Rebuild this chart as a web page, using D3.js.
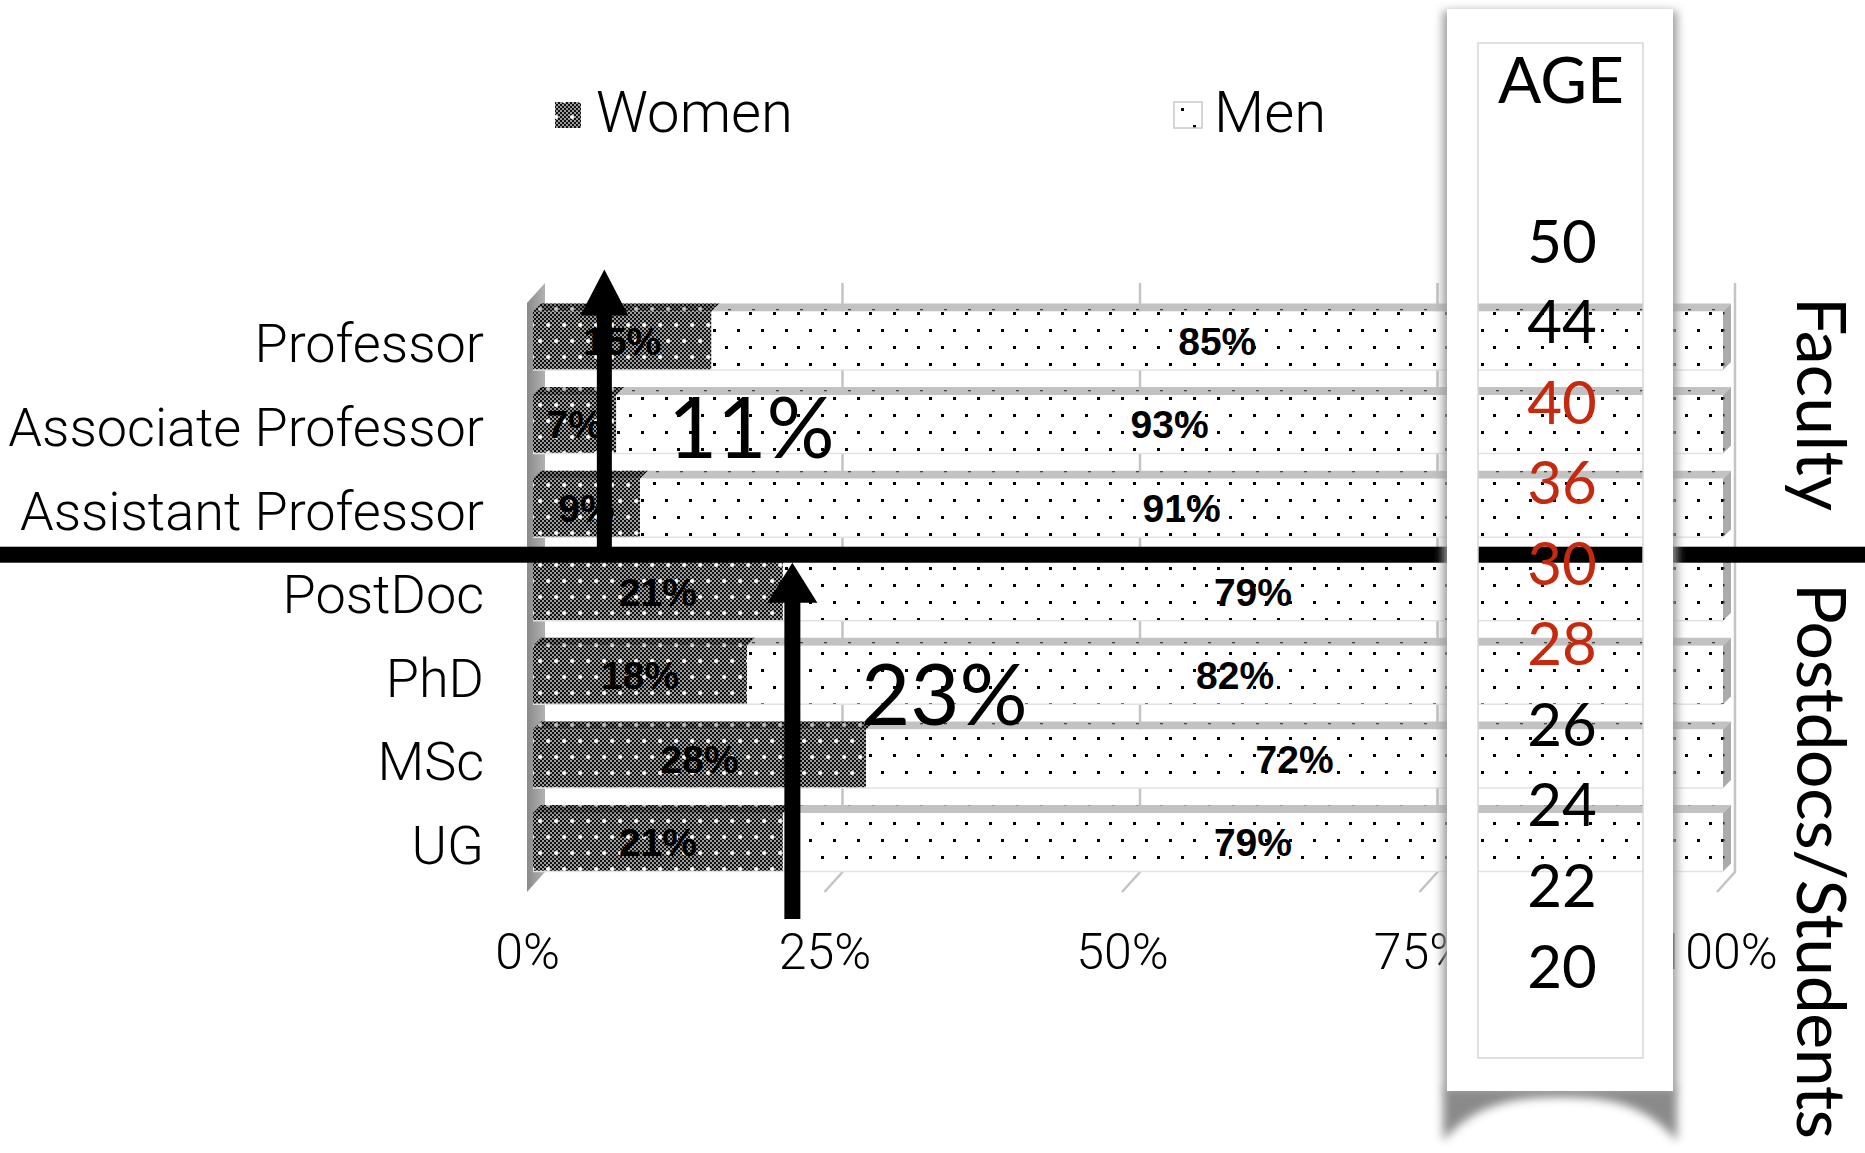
<!DOCTYPE html>
<html>
<head>
<meta charset="utf-8">
<script src="https://cdn.jsdelivr.net/npm/d3@7"></script>
<style>
  html, body { margin: 0; padding: 0; background: #fff; }
  svg { display: block; }
</style>
</head>
<body>
<svg id="chart" width="1865" height="1153"></svg>
<script>
// ---- data ----
const categories = ["Professor", "Associate Professor", "Assistant Professor", "PostDoc", "PhD", "MSc", "UG"];
const womenPct = [15, 7, 9, 21, 18, 28, 21];
const menPct = [85, 93, 91, 79, 82, 72, 79];
const xTickValues = [0, 25, 50, 75, 100];
const xTickLabels = ["0%", "25%", "50%", "75%", "100%"];
const seriesNames = ["Women", "Men"];
const ages = [50, 44, 40, 36, 30, 28, 26, 24, 22, 20];
const highlightedAges = [40, 36, 30, 28];
const groupNames = ["Faculty", "Postdocs/Students"];
const groupLabels = ["11%", "23%"];
const groupArrowAt = [6.5, 22.3];

// ---- layout ----
const W = 1865, H = 1153;
const svg = d3.select("#chart");
const defs = svg.append("defs");

const x = d3.scaleLinear().domain([0, 100]).range([527, 1717]);   // front floor plane
const y = d3.scaleBand().domain(categories).range([299, 884]).paddingInner(0.3).paddingOuter(0.15);
const bw = y.bandwidth();
const faceDx = 6;                 // bar front face sits a little behind the floor edge
const barDepth = { dx: 8, dy: -8 };
const wallDepth = { dx: 18, dy: -20 };
const wallTop = 283, floorBack = 872, floorFront = 892;
const ageY = d3.scalePoint().domain(ages).range([241, 966]);
const panelCx = 1561;

const sansLight = "Roboto, 'Liberation Sans', Arial, sans-serif";
const humanist = "Lato, 'Open Sans', 'Noto Sans', sans-serif";

// ---- patterns ----
const womenPat = defs.append("pattern").attr("id", "womenPat")
  .attr("patternUnits", "userSpaceOnUse").attr("width", 16).attr("height", 32);
womenPat.append("rect").attr("width", 16).attr("height", 32).attr("fill", "#9c9c9c");
for (let i = 0; i < 8; i++) {
  for (let j = 0; j < 16; j++) {
    if ((i + j) % 2 === 0) {
      womenPat.append("rect").attr("x", i * 2).attr("y", j * 2)
        .attr("width", 2).attr("height", 2).attr("fill", "#111");
    }
  }
}
womenPat.append("circle").attr("cx", 4).attr("cy", 5).attr("r", 2.1).attr("fill", "#fff");
womenPat.append("circle").attr("cx", 12).attr("cy", 21).attr("r", 2.1).attr("fill", "#fff");

const menPat = defs.append("pattern").attr("id", "menPat")
  .attr("patternUnits", "userSpaceOnUse").attr("width", 24).attr("height", 34);
menPat.append("rect").attr("width", 24).attr("height", 34).attr("fill", "#fff");
menPat.append("rect").attr("x", 5).attr("y", 6).attr("width", 3).attr("height", 3).attr("fill", "#000");
menPat.append("rect").attr("x", 17).attr("y", 23).attr("width", 3).attr("height", 3).attr("fill", "#000");

const menTopPat = defs.append("pattern").attr("id", "menTopPat")
  .attr("patternUnits", "userSpaceOnUse").attr("width", 24).attr("height", 9);
menTopPat.append("rect").attr("width", 24).attr("height", 9).attr("fill", "#c2c2c2");
menTopPat.append("rect").attr("x", 8).attr("y", 3).attr("width", 3).attr("height", 1.3).attr("fill", "#444");

const sidePat = defs.append("pattern").attr("id", "sidePat")
  .attr("patternUnits", "userSpaceOnUse").attr("width", 8).attr("height", 17);
sidePat.append("rect").attr("width", 8).attr("height", 17).attr("fill", "#ababab");
sidePat.append("rect").attr("x", 3).attr("y", 6).attr("width", 1.5).attr("height", 2.5).attr("fill", "#333");

const wallGrad = defs.append("linearGradient").attr("id", "wallGrad")
  .attr("x1", 0).attr("x2", 1).attr("y1", 0).attr("y2", 0);
wallGrad.append("stop").attr("offset", 0).attr("stop-color", "#8a8a8a");
wallGrad.append("stop").attr("offset", 1).attr("stop-color", "#b2b2b2");

const blur = defs.append("filter").attr("id", "softShadow")
  .attr("x", "-20%").attr("y", "-20%").attr("width", "140%").attr("height", "140%");
blur.append("feGaussianBlur").attr("stdDeviation", 5);

// ---- 3D frame: side wall and grid ----
const poly = pts => pts.map(p => p.join(",")).join(" ");

svg.append("polygon")
  .attr("points", poly([
    [x(0), floorFront], [x(0), wallTop - wallDepth.dy],
    [x(0) + wallDepth.dx, wallTop], [x(0) + wallDepth.dx, floorBack]
  ]))
  .attr("fill", "url(#wallGrad)");

const grid = svg.append("g").attr("fill", "none").attr("stroke", "#c4c4c4").attr("stroke-width", 2.5);
grid.selectAll("path").data(xTickValues.filter(t => t > 0)).join("path")
  .attr("d", t => `M${x(t) + wallDepth.dx},${wallTop}V${floorBack}L${x(t)},${floorFront}`);

// ---- bars ----
const rows = categories.map((c, i) => ({ cat: c, women: womenPct[i], men: menPct[i] }));
const bars = svg.append("g");

rows.forEach(r => {
  const y0 = y(r.cat);
  const xa = x(0) + faceDx, xm = x(r.women) + faceDx, xe = x(100) + faceDx;
  const g = bars.append("g");
  // top faces
  g.append("polygon")
    .attr("points", poly([[xa, y0], [xa + barDepth.dx, y0 + barDepth.dy], [xm + barDepth.dx, y0 + barDepth.dy], [xm, y0]]))
    .attr("fill", "url(#womenPat)");
  g.append("polygon")
    .attr("points", poly([[xa, y0], [xa + barDepth.dx, y0 + barDepth.dy], [xm + barDepth.dx, y0 + barDepth.dy], [xm, y0]]))
    .attr("fill", "#000").attr("opacity", 0.25);
  g.append("polygon")
    .attr("points", poly([[xm, y0], [xm + barDepth.dx, y0 + barDepth.dy], [xe + barDepth.dx, y0 + barDepth.dy], [xe, y0]]))
    .attr("fill", "url(#menTopPat)");
  // right end face
  g.append("polygon")
    .attr("points", poly([[xe, y0], [xe + barDepth.dx, y0 + barDepth.dy], [xe + barDepth.dx, y0 + bw + barDepth.dy], [xe, y0 + bw]]))
    .attr("fill", "url(#sidePat)");
  // front faces
  g.append("rect").attr("x", xa).attr("y", y0).attr("width", xm - xa).attr("height", bw).attr("fill", "url(#womenPat)");
  g.append("rect").attr("x", xm).attr("y", y0).attr("width", xe - xm).attr("height", bw).attr("fill", "url(#menPat)");
  g.append("line").attr("x1", xa).attr("x2", xe).attr("y1", y0 + bw).attr("y2", y0 + bw)
    .attr("stroke", "#e2e2e2").attr("stroke-width", 1.5);
});

// ---- value labels ----
const valueLabels = svg.append("g")
  .attr("font-family", "'Liberation Sans', Arial, sans-serif")
  .attr("font-weight", "bold").attr("font-size", 39)
  .attr("text-anchor", "middle").attr("fill", "#000");
rows.forEach(r => {
  const cy = y(r.cat) + bw / 2;
  valueLabels.append("text")
    .attr("x", (x(0) + x(r.women)) / 2 + faceDx).attr("y", cy).attr("dy", "0.36em")
    .text(r.women + "%");
  valueLabels.append("text")
    .attr("x", (x(r.women) + x(100)) / 2 + faceDx).attr("y", cy).attr("dy", "0.36em")
    .text(r.men + "%");
});

// ---- group averages ----
const dividerY = (y(categories[2]) + bw + y(categories[3])) / 2 + 5;

svg.append("text").attr("x", 668).attr("y", 458)
  .attr("font-family", humanist).attr("font-size", 85).attr("fill", "#000")
  .text(groupLabels[0]);
svg.append("text").attr("x", 861).attr("y", 725)
  .attr("font-family", humanist).attr("font-size", 85).attr("fill", "#000")
  .text(groupLabels[1]);

function arrowPath(xc, tipY, headY, bottomY, headHalf, shaftHalf) {
  return `M${xc},${tipY}L${xc + headHalf},${headY}L${xc + shaftHalf},${headY}` +
         `L${xc + shaftHalf},${bottomY}L${xc - shaftHalf},${bottomY}L${xc - shaftHalf},${headY}` +
         `L${xc - headHalf},${headY}Z`;
}
const arrow1Tip = y(categories[0]) - 42;
svg.append("path")
  .attr("d", arrowPath(x(groupArrowAt[0]), arrow1Tip, arrow1Tip + 46, dividerY, 24, 7.5))
  .attr("fill", "#000");
svg.append("path")
  .attr("d", arrowPath(x(groupArrowAt[1]), dividerY + 8, dividerY + 48, 919, 25, 8))
  .attr("fill", "#000");

svg.append("rect").attr("x", 0).attr("y", dividerY - 8).attr("width", W).attr("height", 16).attr("fill", "#000");

// ---- axes ----
const xAxis = svg.append("g").attr("transform", "translate(0,933)")
  .call(d3.axisBottom(x).tickValues(xTickValues).tickSize(0).tickPadding(0)
    .tickFormat((d, i) => xTickLabels[i]));
xAxis.select(".domain").remove();
xAxis.selectAll("text")
  .attr("font-family", sansLight).attr("font-weight", 300).attr("font-size", 50)
  .attr("fill", "#000");

const yAxis = svg.append("g").attr("transform", "translate(484,0)")
  .call(d3.axisLeft(y).tickSize(0).tickPadding(0));
yAxis.select(".domain").remove();
yAxis.selectAll("text")
  .attr("font-family", sansLight).attr("font-weight", 300).attr("font-size", 54)
  .attr("dy", "0.4em").attr("fill", "#000");

// ---- legend ----
const legend = svg.append("g");
legend.append("rect").attr("x", 555).attr("y", 102).attr("width", 26).attr("height", 26).attr("fill", "url(#womenPat)");
legend.append("text").attr("x", 596).attr("y", 132)
  .attr("font-family", sansLight).attr("font-weight", 300).attr("font-size", 58).text(seriesNames[0]);
legend.append("rect").attr("x", 1174).attr("y", 102).attr("width", 28).attr("height", 26)
  .attr("fill", "url(#menPat)").attr("stroke", "#c8c8c8").attr("stroke-width", 1.5);
legend.append("text").attr("x", 1214).attr("y", 132)
  .attr("font-family", sansLight).attr("font-weight", 300).attr("font-size", 58).text(seriesNames[1]);

// ---- age panel ----
const outer = { x0: 1447, y0: 9, x1: 1673, y1: 1091 };
const inner = { x0: 1478, y0: 43, x1: 1643, y1: 1058 };

defs.append("clipPath").attr("id", "outsideWindow")
  .append("path").attr("clip-rule", "evenodd")
  .attr("d", `M0,0H${W}V${H}H0Z M${inner.x0},${inner.y0}V${inner.y1}H${inner.x1}V${inner.y0}Z`);

const panel = svg.append("g");
panel.append("rect")
  .attr("x", outer.x0 - 4).attr("y", outer.y0 + 2)
  .attr("width", outer.x1 - outer.x0 + 8).attr("height", outer.y1 - outer.y0 - 2)
  .attr("fill", "#9a9a9a").attr("filter", "url(#softShadow)")
  .attr("clip-path", "url(#outsideWindow)");
panel.append("path")
  .attr("d", `M${outer.x0 - 4},${outer.y1 - 3}H${outer.x1 + 4}V${outer.y1 + 50}` +
             `C${outer.x1 - 30},${outer.y1 + 10} ${panelCx + 40},${outer.y1 + 6} ${panelCx},${outer.y1 + 6}` +
             `C${panelCx - 40},${outer.y1 + 6} ${outer.x0 + 30},${outer.y1 + 10} ${outer.x0 - 4},${outer.y1 + 50}Z`)
  .attr("fill", "#7e7e7e").attr("opacity", 0.9).attr("filter", "url(#softShadow)");
panel.append("path")
  .attr("fill-rule", "evenodd").attr("fill", "#fff")
  .attr("d", `M${outer.x0},${outer.y0}H${outer.x1}V${outer.y1}H${outer.x0}Z ` +
             `M${inner.x0},${inner.y0}H${inner.x1}V${inner.y1}H${inner.x0}Z`);
panel.append("rect")
  .attr("x", inner.x0).attr("y", inner.y0)
  .attr("width", inner.x1 - inner.x0).attr("height", inner.y1 - inner.y0)
  .attr("fill", "none").attr("stroke", "#d6d6d6").attr("stroke-width", 1.5);

panel.append("text").attr("x", panelCx).attr("y", 103).attr("text-anchor", "middle")
  .attr("font-family", humanist).attr("font-size", 64).attr("fill", "#000").text("AGE");

panel.selectAll("text.age").data(ages).join("text")
  .attr("class", "age")
  .attr("x", panelCx + 1).attr("y", d => ageY(d)).attr("dy", "0.36em")
  .attr("text-anchor", "middle")
  .attr("font-family", humanist).attr("font-size", 60)
  .attr("fill", d => highlightedAges.includes(d) ? "#c62a0e" : "#000")
  .text(d => d);

// ---- group captions ----
svg.append("text").attr("transform", "translate(1797,297) rotate(90)")
  .attr("font-family", humanist).attr("font-size", 68).attr("fill", "#000")
  .attr("textLength", 214).attr("lengthAdjust", "spacing")
  .text(groupNames[0]);
svg.append("text").attr("transform", "translate(1797,583) rotate(90)")
  .attr("font-family", humanist).attr("font-size", 68).attr("fill", "#000")
  .attr("textLength", 556).attr("lengthAdjust", "spacing")
  .text(groupNames[1]);
</script>
</body>
</html>
